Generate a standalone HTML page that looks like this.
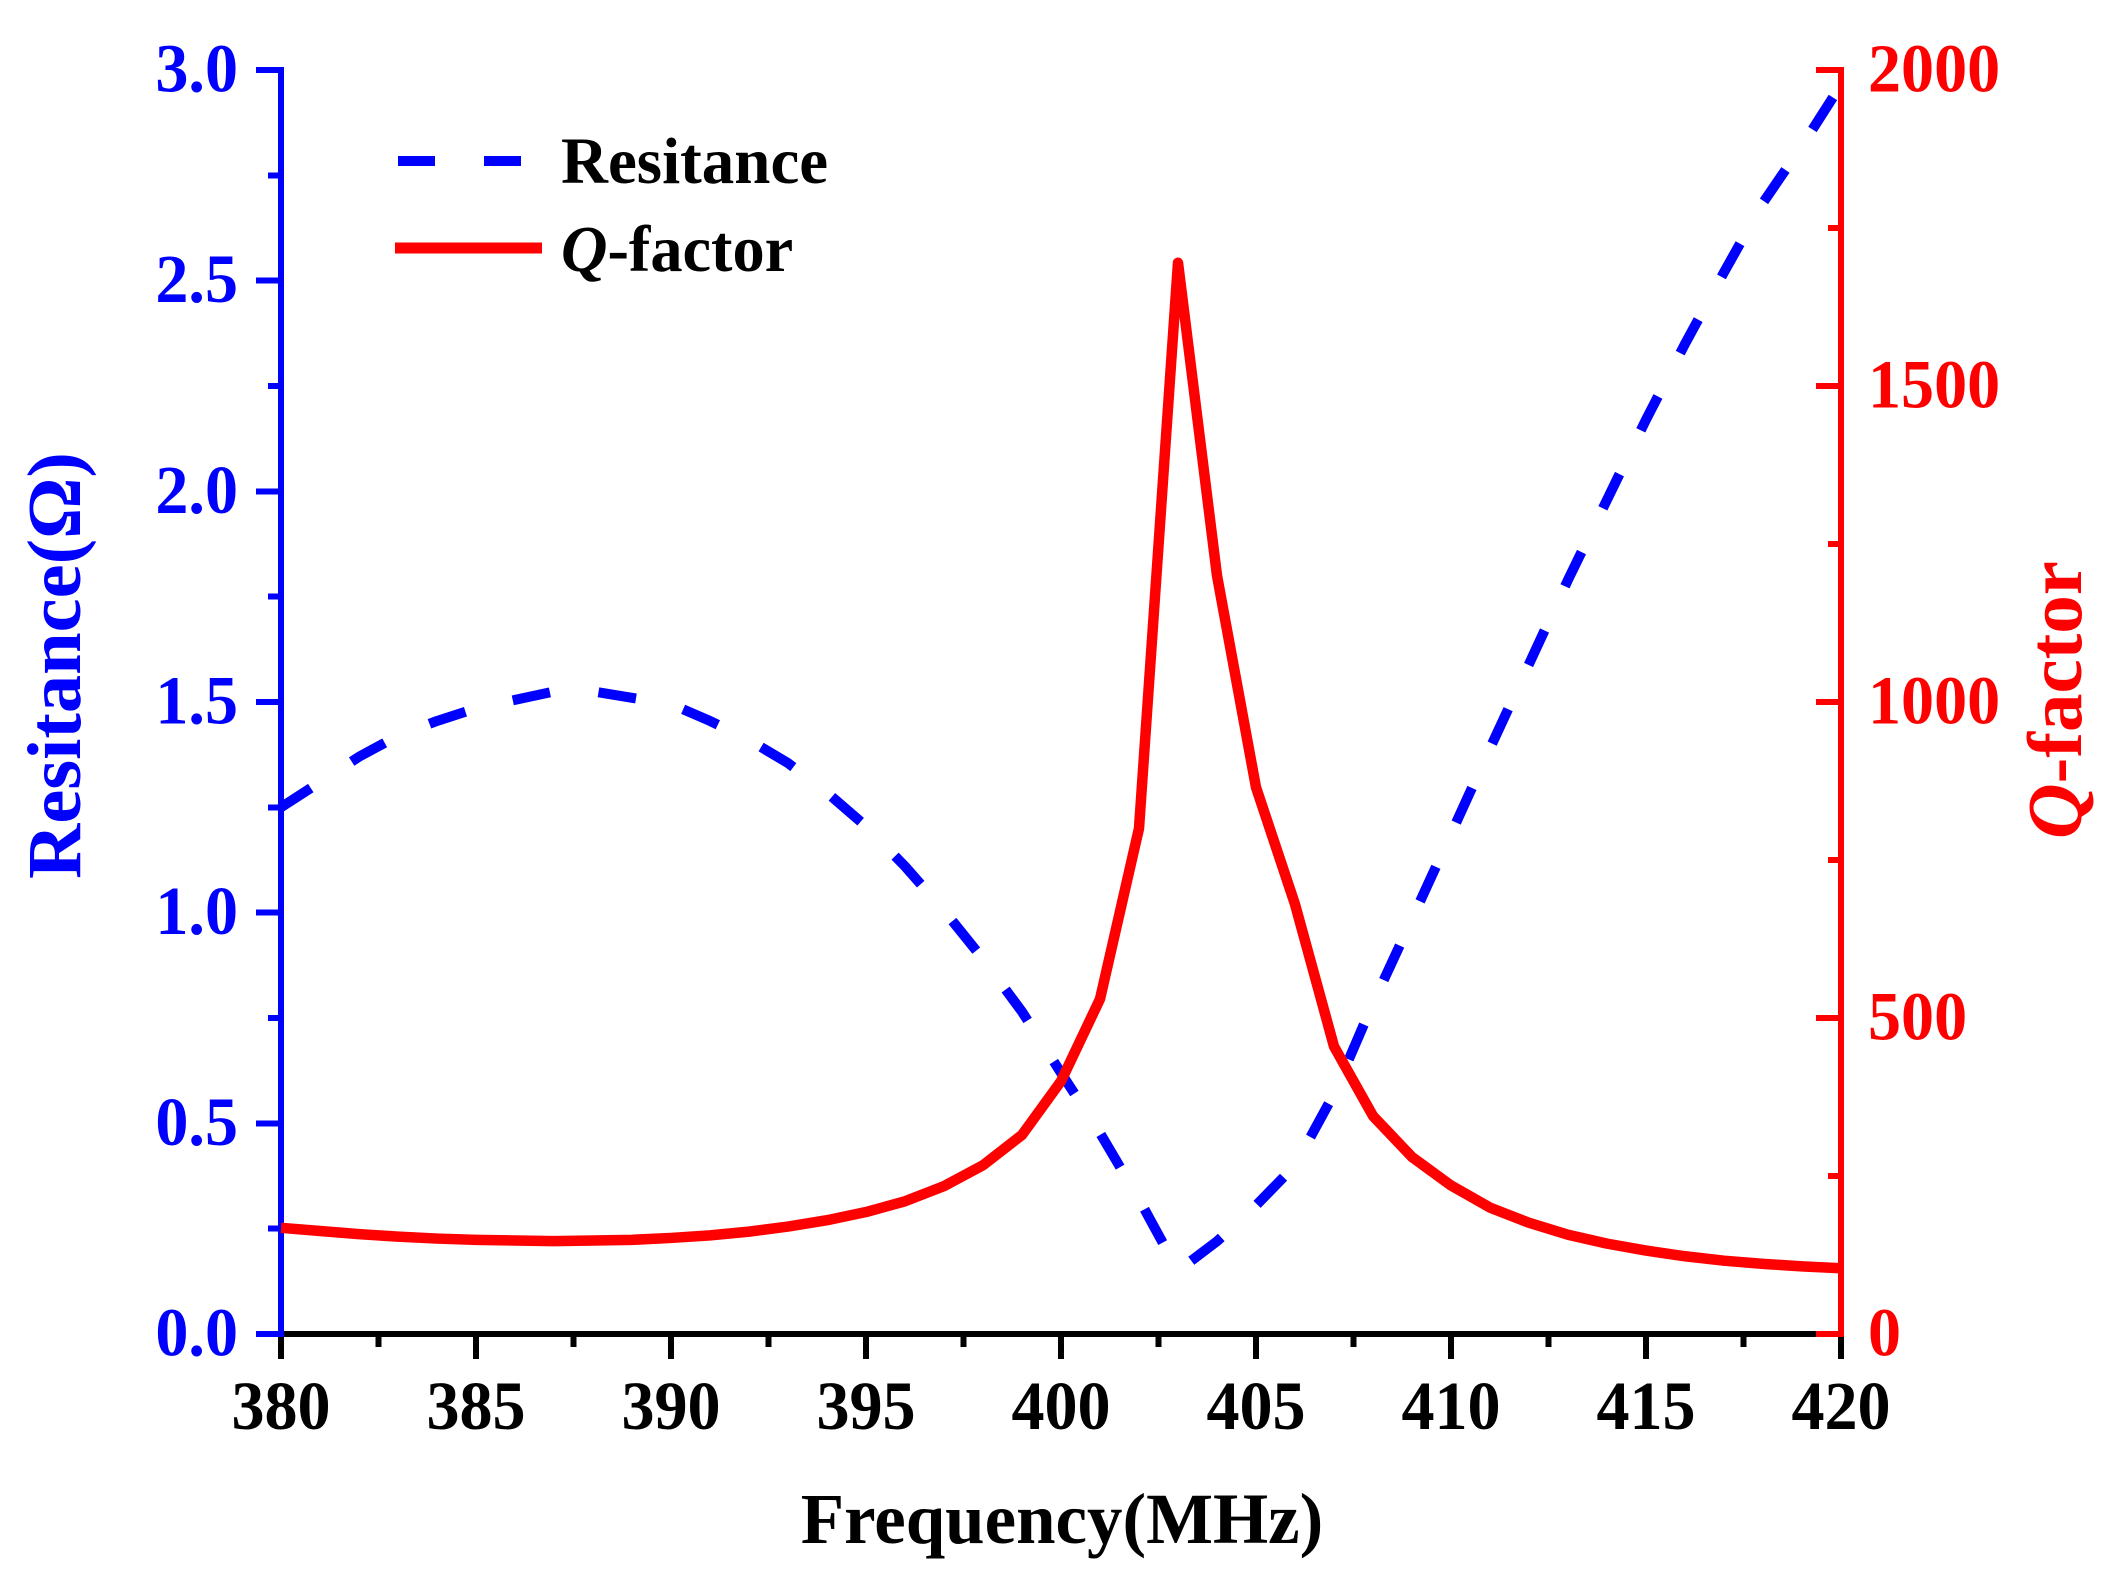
<!DOCTYPE html>
<html>
<head>
<meta charset="utf-8">
<style>
html,body{margin:0;padding:0;background:#fff;}
svg{display:block;}
text{font-family:"Liberation Serif",serif;font-weight:bold;}
</style>
</head>
<body>
<svg id="chart" xmlns="http://www.w3.org/2000/svg" width="2124" height="1588" viewBox="0 0 2124 1588">
<rect width="2124" height="1588" fill="#fff"/>
</svg>
<script>
const frequencies = [380,381,382,383,384,385,386,387,388,389,390,391,392,393,394,395,396,397,398,399,400,401,402,403,404,405,406,407,408,409,410,411,412,413,414,415,416,417,418,419,420];
const resistance = [1.25,1.31,1.37,1.42,1.455,1.485,1.505,1.525,1.525,1.51,1.495,1.455,1.41,1.355,1.285,1.205,1.11,1.005,0.89,0.765,0.62,0.477,0.32,0.15,0.22,0.305,0.40,0.57,0.785,0.985,1.187,1.39,1.59,1.79,1.98,2.17,2.35,2.52,2.685,2.82,2.965];
const qFactor = [168,163,158,154,151,149,148,147,148,149,152,156,162,170,180,193,210,234,267,315,400,530,800,1695,1200,865,680,455,345,280,235,200,176,157,143,132,123,116,111,107,104];
const xTickLabels = ['380','385','390','395','400','405','410','415','420'];
const xMinorTicks = [382.5,387.5,392.5,397.5,402.5,407.5,412.5,417.5];
const leftTickLabels = ['0.0','0.5','1.0','1.5','2.0','2.5','3.0'];
const leftMinorTicks = [0.25,0.75,1.25,1.75,2.25,2.75];
const rightTickLabels = ['0','500','1000','1500','2000'];
const rightMinorTicks = [250,750,1250,1750];

const svg = document.getElementById('chart');
const NS = 'http://www.w3.org/2000/svg';
const X0 = 281, X1 = 1841, YB = 1334, YT = 70;
const TICK_FONT = 68.5, TICK_SX = 0.965;
const fx = v => X0 + (v - 380) / 40 * (X1 - X0);
const fl = v => YB - v / 3 * (YB - YT);
const fr = v => YB - v / 2000 * (YB - YT);

function mk(tag, attrs, text) {
  const el = document.createElementNS(NS, tag);
  for (const k in attrs) el.setAttribute(k, attrs[k]);
  if (text !== undefined) el.textContent = text;
  svg.appendChild(el);
  return el;
}
function rect(x, y, w, h, fill) {
  return mk('rect', {x: x, y: y, width: w, height: h, fill: fill, 'shape-rendering': 'crispEdges'});
}
function tickText(x, y, anchor, fill, t) {
  return mk('text', {transform: 'translate(' + x + ',' + y + ') scale(' + TICK_SX + ',1)', 'text-anchor': anchor, 'font-size': TICK_FONT, fill: fill}, t);
}

// x axis
let el = rect(X0, YB - 3, X1 - X0, 6, '#000');


xTickLabels.forEach(t => {
  const x = fx(+t);
  const tick = rect(x - 3, YB, 6, 25, '#000');
  
  
  const lab = tickText(x, 1429, 'middle', '#000', t);
  
  
});
xMinorTicks.forEach(v => {
  const tick = rect(fx(v) - 3, YB, 6, 13, '#000');
  
  
});

// left axis
el = rect(X0 - 3, YT - 3, 6, YB - YT + 6, '#0000ff');


leftTickLabels.forEach(t => {
  const y = fl(+t);
  const tick = rect(X0 - 25, y - 3, 25, 6, '#0000ff');
  
  
  const lab = tickText(238, y + 21.5, 'end', '#0000ff', t);
  
  
});
leftMinorTicks.forEach(v => {
  const tick = rect(X0 - 13, fl(v) - 3, 13, 6, '#0000ff');
  
  
});

// right axis
el = rect(X1 - 3, YT - 3, 6, YB - YT + 6, '#ff0000');


rightTickLabels.forEach(t => {
  const y = fr(+t);
  const tick = rect(X1 - 25, y - 3, 25, 6, '#ff0000');
  
  
  const lab = tickText(1868, y + 21.5, 'start', '#ff0000', t);
  
  
});
rightMinorTicks.forEach(v => {
  const tick = rect(X1 - 13, fr(v) - 3, 13, 6, '#ff0000');
  
  
});

// series
const rPts = frequencies.map((f, i) => fx(f) + ',' + fl(resistance[i])).join(' ');
const rLine = mk('polyline', {points: rPts, fill: 'none', stroke: '#0000ff', 'stroke-width': 10, 'stroke-dasharray': '38 48.7', 'stroke-dashoffset': 2.5, 'stroke-linejoin': 'round'});



const qPts = frequencies.map((f, i) => fx(f) + ',' + fr(qFactor[i])).join(' ');
const qLine = mk('polyline', {points: qPts, fill: 'none', stroke: '#ff0000', 'stroke-width': 10.5, 'stroke-linejoin': 'round'});


</script>

<script>
// legend and titles
(function () {
  const s = document.getElementById('chart');
  s.insertAdjacentHTML('beforeend', `
  <g>
    <line x1="398" y1="161" x2="522" y2="161" stroke="#0000ff" stroke-width="10" stroke-dasharray="37 49"/>
    <text transform="translate(561,183) scale(0.985,1)" font-size="66" fill="#000">Resitance</text>
    <line x1="395" y1="248" x2="542" y2="248" stroke="#ff0000" stroke-width="11"/>
    <text transform="translate(561,271) scale(0.975,1)" font-size="66" fill="#000"><tspan font-style="italic">Q</tspan>-factor</text>
  </g>
  <text transform="translate(1062,1543) scale(0.985,1)" text-anchor="middle" font-size="72" fill="#000">Frequency(MHz)</text>
  <text transform="translate(80,665.5) rotate(-90)" text-anchor="middle" font-size="76.5" fill="#0000ff">Resitance(Ω)</text>
  <text transform="translate(2081,700) rotate(-90)" text-anchor="middle" font-size="77" fill="#ff0000"><tspan font-style="italic">Q</tspan>-factor</text>
  `);
})();
</script>
</body>
</html>
